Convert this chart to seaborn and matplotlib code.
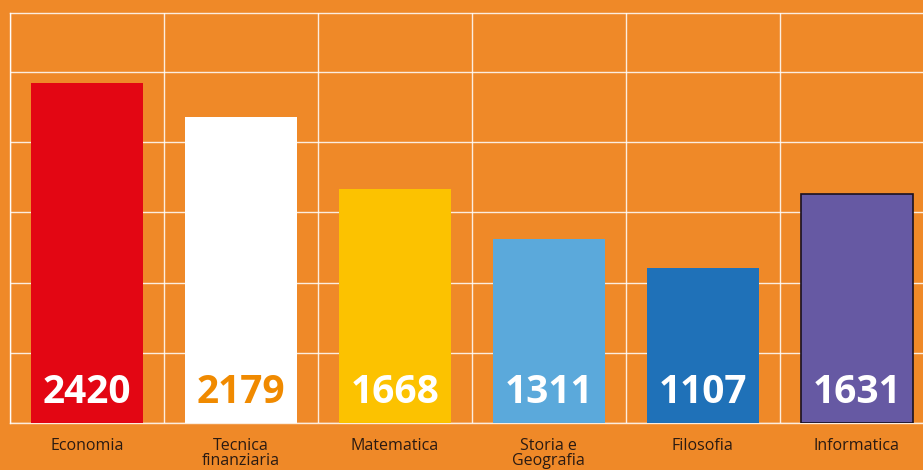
import pandas as pd
import matplotlib.pyplot as plt
import seaborn as sns

# data
materie = ['Economia', 'Tecnica\nfinanziaria', 'Matematica', 'Storia e\nGeografia', 'Filosofia', 'Informatica']
valori = [2420, 2179, 1668, 1311, 1107, 1631]
colori = ['#E30613', '#FFFFFF', '#FCC200', '#5BA9DB', '#1F71B8', '#6659A3']
colori_testo = ['white', '#F08A00', 'white', 'white', 'white', 'white']

arancio = '#EF8928'

data = pd.DataFrame({'Materia': materie, 'Valore': valori})

sns.set_style('white')
plt.rcParams['font.family'] = ['Open Sans', 'DejaVu Sans']

fig = plt.figure(figsize=(9.23, 4.70), dpi=100, facecolor=arancio)
ax = fig.add_axes([10 / 923, 47 / 470, 913 / 923, 410 / 470])
ax.set_facecolor(arancio)

sns.barplot(x='Materia', y='Valore', data=data, hue='Materia', palette=colori,
            legend=False, width=0.727, saturation=1, linewidth=0, ax=ax, zorder=3)

# dark outline only on the last bar
ax.patches[5].set_edgecolor('#1a1020')
ax.patches[5].set_linewidth(1.2)

# value labels near the bottom of each bar
for i, v in enumerate(valori):
    ax.annotate(str(v), xy=(i, 0), xytext=(0, 14.5), textcoords='offset points',
                ha='center', va='baseline', fontsize=28, fontweight='bold',
                color=colori_testo[i], zorder=4)

# white grid: horizontal every 500, vertical between categories
ax.set_yticks(range(0, 3000, 500))
ax.set_xticks([i - 0.5 for i in range(7)], minor=True)
ax.grid(which='major', axis='y', color='white', linewidth=1, alpha=0.85, zorder=0)
ax.grid(which='minor', axis='x', color='white', linewidth=1, alpha=0.85, zorder=0)
ax.set_axisbelow(True)
ax.tick_params(axis='y', left=False, labelleft=False)
ax.tick_params(axis='x', which='both', length=0, pad=11)
ax.set_xticks(range(6))
ax.set_xticklabels(materie, fontsize=11.5, color='#2a1a12', linespacing=0.9)

ax.set_ylim(0, 2920)
ax.set_xlim(-0.5, 5.43)

for s in ax.spines.values():
    s.set_color('white')
    s.set_linewidth(1)
    s.set_alpha(0.85)
ax.spines['right'].set_visible(False)

ax.set_xlabel('')
ax.set_ylabel('')

fig.savefig('out.png', dpi=100, facecolor=arancio)
